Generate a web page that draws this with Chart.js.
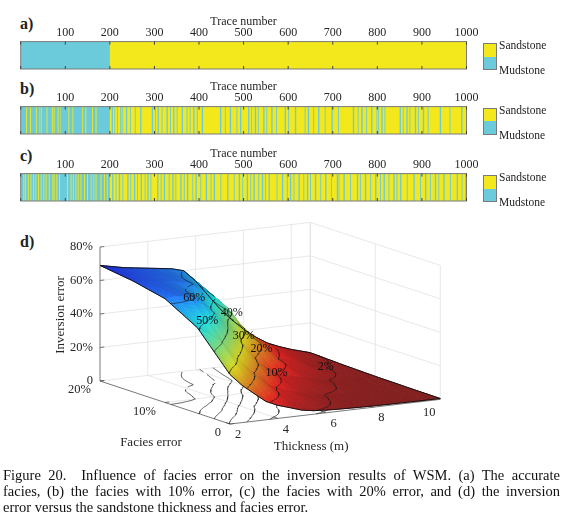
<!DOCTYPE html>
<html>
<head>
<meta charset="utf-8">
<script src="https://cdn.jsdelivr.net/npm/chart.js@4.4.1/dist/chart.umd.min.js"></script>
<style>
  body { margin: 0; background: #fff; width: 570px; height: 526px; position: relative; overflow: hidden;
         font-family: "Liberation Serif", serif; color: #222; }
  canvas { position: absolute; left: 0; }
  .tag { position: absolute; left: 20px; font-weight: bold; font-size: 16px; line-height: 16px; }
  .leg { position: absolute; left: 483px; width: 12px; border: 1px solid #7a7a7a; }
  .leg div { height: 50%; }
  .legt { position: absolute; left: 499px; font-size: 11.5px; line-height: 12px; margin-top: -6px; }
  #cap { position: absolute; left: 3px; top: 467px; width: 557px; font-size: 14.5px; line-height: 16px; color: #111; }
  #cap div { text-align: justify; text-align-last: justify; }
  #cap div.last { text-align-last: left; }
</style>
</head>
<body>
<div class="tag" style="top:16px">a)</div>
<div class="tag" style="top:81px">b)</div>
<div class="tag" style="top:148px">c)</div>
<div class="tag" style="top:234px">d)</div>

<canvas id="stripA" width="570" height="72" style="top:0px"></canvas>
<canvas id="stripB" width="570" height="72" style="top:64.7px"></canvas>
<canvas id="stripC" width="570" height="72" style="top:132px"></canvas>
<canvas id="surf" width="570" height="245" style="top:215px"></canvas>

<div class="leg" style="top:43px;height:25px"><div style="background:#f2e81c"></div><div style="background:#6ccbdb"></div></div>
<div class="legt" style="top:45px">Sandstone</div><div class="legt" style="top:70px">Mudstone</div>
<div class="leg" style="top:107.7px;height:25px"><div style="background:#f2e81c"></div><div style="background:#6ccbdb"></div></div>
<div class="legt" style="top:109.5px">Sandstone</div><div class="legt" style="top:134.5px">Mudstone</div>
<div class="leg" style="top:175px;height:25px"><div style="background:#f2e81c"></div><div style="background:#6ccbdb"></div></div>
<div class="legt" style="top:177px">Sandstone</div><div class="legt" style="top:202px">Mudstone</div>

<div id="cap">
  <div>Figure 20.&nbsp; Influence of facies error on the inversion results of WSM. (a) The accurate</div>
  <div>facies, (b) the facies with 10% error, (c) the facies with 20% error, and (d) the inversion</div>
  <div class="last">error versus the sandstone thickness and facies error.</div>
</div>

<script>
const SAND = '#f2e81c';
const MUD = '#6ccbdb';

// true facies: mudstone traces, everything else sandstone
const mudstoneTrue = [[1, 200]];
const errorsA = [];
const errorsB = [[13,14],[22,23],[35,36],[42,42],[46,47],[59,60],[71,72],[75,76],[84,85],[90,90],[108,109],[117,118],[139,140],[146,147],[161,162],[169,170],
  [205,207],[211,212],[217,218],[224,226],[229,230],[237,239],[246,247],[257,258],[269,271],[295,297],[302,303],[308,310],[317,318],[328,330],[336,337],[343,345],[351,352],[362,364],[373,374],[380,381],[388,390],[396,397],[407,409],[448,450],[459,460],[470,472],[485,486],[493,495],
  [511,513],[518,519],[526,528],[533,534],[545,547],[552,553],[563,565],[574,575],[593,595],[601,602],[616,618],[638,639],[645,647],[657,658],[668,670],[683,684],[698,700],[713,714],[746,748],[757,758],[765,767],[776,777],[787,789],[799,800],[803,804],[810,812],[817,818],[851,853],[858,859],[866,868],[873,874],[885,887],[892,893],[903,905],[914,915],[941,943],[963,964],[989,991]];
const errorsC = [[7,8],[11,12],[17,18],[23,24],[29,30],[34,35],[40,41],[46,47],[52,53],[57,58],[64,65],[72,73],[75,76],[81,82],[87,88],[105,106],[113,114],[118,119],[124,125],[129,130],[135,136],[143,144],[150,151],[158,159],[164,165],[169,170],[180,181],[188,189],[194,195],
  [206,208],[214,215],[221,223],[229,230],[240,242],[247,248],[255,257],[262,263],[270,272],[279,280],[285,287],[292,293],[307,309],[315,316],[322,324],[333,334],[341,343],[348,349],[359,361],[367,368],[374,376],[386,387],[393,395],[404,405],[416,418],[427,428],[434,436],[449,450],[464,466],[479,480],[490,492],[498,499],
  [508,510],[516,517],[523,525],[534,535],[542,544],[549,550],[557,559],[575,576],[587,589],[598,599],[605,607],[613,614],[624,626],[635,636],[643,645],[650,651],[661,663],[673,674],[684,686],[697,698],[710,712],[714,715],[725,727],[740,741],[755,757],[762,763],[773,775],[785,786],[796,798],[807,808],[815,817],[826,827],[837,839],[844,845],[852,854],[867,868],[882,884],[897,898],[908,910],[919,920],[930,932],[938,939],[949,951],[964,965],[979,981],[990,991],[998,999]];
const traceCount = 1000;

// surface (d): inversion error (%) vs thickness (m), one row per facies error (%)
const thickness = [2, 2.5, 3, 3.5, 4, 4.5, 5, 5.5, 6, 6.5, 7, 7.5, 8, 8.5, 9, 9.5, 10, 10.8];
const faciesError = [0, 5, 10, 15, 20];
const invErrF0  = [29.5, 22.3, 16.6, 11, 7.8, 5.6, 3.3, 2.1, 1.6, 1.3, 1.1, 0.9, 0.8, 0.7, 0.65, 0.6, 0.55, 0.5];
const invErrF5  = [51, 46, 40.4, 32.6, 24.9, 18.3, 12, 8.5, 6.2, 4.0, 2.5, 1.7, 1.4, 1.15, 1.0, 0.85, 0.75, 0.65];
const invErrF10 = [62, 62.5, 61.6, 58.6, 51.2, 42.2, 34.2, 24, 16.5, 11, 8, 6, 4.3, 2.7, 1.75, 1.45, 1.15, 0.9];
const invErrF15 = [66.3, 65.2, 64.2, 63.2, 62.2, 60.4, 55.5, 50, 43, 33, 25, 18, 10.5, 8.0, 6, 3.5, 2, 1.4];
const invErrF20 = [69, 67.5, 66, 65, 64, 63, 62, 60, 53, 44, 35, 27.5, 21, 15.5, 11, 8, 5.5, 2.2];
const invErr = [invErrF0, invErrF5, invErrF10, invErrF15, invErrF20];

const thickTicks = [2, 4, 6, 8, 10];
const faciesTicks = [0, 10, 20];
const errTicks = [0, 20, 40, 60, 80];
const contourLevels = [2, 10, 20, 30, 40, 50, 60];
const contourLabelAt = [[60, 10.3], [50, 7.5], [40, 15], [30, 12.4], [20, 13], [10, 10], [2, 14.6]];

const FONT = 'Liberation Serif';
const TXT = '#262626';

    // Facies strips
const stripFrame = {
    id: 'stripFrame',
    afterDatasetsDraw(chart) {
        const { ctx, chartArea: a, scales: { x } } = chart;
        ctx.save();
        ctx.strokeStyle = '#7a7a7a';
        ctx.lineWidth = 1;
        ctx.strokeRect(a.left, a.top, a.right - a.left, a.bottom - a.top);
        ctx.strokeStyle = '#404040';
        x.ticks.forEach(tk => {
            const px = x.getPixelForValue(tk.value);
            ctx.beginPath();
            ctx.moveTo(px, a.top); ctx.lineTo(px, a.top + 3);
            ctx.moveTo(px, a.bottom); ctx.lineTo(px, a.bottom - 3);
            ctx.stroke();
        });
        ctx.restore();
    }
};

function isMud(t) {
    return mudstoneTrue.some(r => t >= r[0] && t <= r[1]);
}

function stripChart(id, errors) {
    new Chart(document.getElementById(id), {
        type: 'bar',
        data: {
            labels: ['facies'],
            datasets: [
                {
                    data: errors.map(r => ({ x: [r[0] - 1, r[1]], y: 'facies' })),
                    backgroundColor: errors.map(r => isMud(r[0]) ? SAND : MUD),
                    order: 1
                },
                {
                    data: mudstoneTrue.map(r => ({ x: [r[0] - 1, r[1]], y: 'facies' })),
                    backgroundColor: MUD,
                    order: 2
                },
                {
                    data: [{ x: [0, traceCount], y: 'facies' }],
                    backgroundColor: SAND,
                    order: 3
                }
            ]
        },
        options: {
            indexAxis: 'y',
            responsive: false,
            animation: false,
            events: [],
            datasets: { bar: { grouped: false, categoryPercentage: 1, barPercentage: 1, borderWidth: 0, inflateAmount: 0 } },
            layout: { padding: { left: 20.7, right: 103.5, top: 14.2, bottom: 3 } },
            scales: {
                x: {
                    type: 'linear', position: 'top', min: 0, max: traceCount,
                    grid: { display: false, drawTicks: false },
                    border: { display: false },
                    ticks: {
                        stepSize: 100, padding: 2, maxRotation: 0, autoSkip: false, color: TXT,
                        font: { family: FONT, size: 12 },
                        callback: v => v === 0 ? '' : v
                    },
                    title: { display: true, text: 'Trace number', padding: 0, color: TXT, font: { family: FONT, size: 12 } }
                },
                y: { type: 'category', display: false }
            },
            plugins: { legend: { display: false }, tooltip: { enabled: false } }
        },
        plugins: [stripFrame]
    });
}

stripChart('stripA', errorsA);
stripChart('stripB', errorsB);
stripChart('stripC', errorsC);

    // 3D surface
const t0 = thickness[0];
const t1 = thickness[thickness.length - 1];
const fMax = faciesError[faciesError.length - 1];
const eMax = errTicks[errTicks.length - 1];
const view = { ox: 230, oy: 209, tx: 23.9, ty: -2.8, fx: -6.5, fy: -2.15, ez: -1.675 };
const cmax = 80;

const proj = (t, f, e) => ({
    x: view.ox + (t - t0) * view.tx + f * view.fx,
    y: view.oy + (t - t0) * view.ty + f * view.fy + e * view.ez
});

function cellIndex(arr, v) {
    let i = 0;
    while (i < arr.length - 2 && v > arr[i + 1]) i++;
    return i;
}

function errAt(t, f) {
    const i = cellIndex(thickness, t), j = cellIndex(faciesError, f);
    const a = (t - thickness[i]) / (thickness[i + 1] - thickness[i]);
    const b = (f - faciesError[j]) / (faciesError[j + 1] - faciesError[j]);
    return (1 - a) * (1 - b) * invErr[j][i] + a * (1 - b) * invErr[j][i + 1]
        + (1 - a) * b * invErr[j + 1][i] + a * b * invErr[j + 1][i + 1];
}

// finer mesh for smooth (interp-like) shading
function refine(arr, n) {
    const out = [];
    for (let i = 0; i < arr.length - 1; i++)
        for (let s = 0; s < n; s++) out.push(arr[i] + (arr[i + 1] - arr[i]) * s / n);
    out.push(arr[arr.length - 1]);
    return out;
}
const tF = refine(thickness, 4);
const fF = refine(faciesError, 10);
const EF = fF.map(f => tF.map(t => errAt(t, f)));

function jetRev(e) {
    const u = 1 - Math.min(Math.max(e / cmax, 0), 1);
    const cl = v => Math.min(Math.max(v, 0), 1);
    return [cl(1.5 - Math.abs(4 * u - 3)), cl(1.5 - Math.abs(4 * u - 2)), cl(1.5 - Math.abs(4 * u - 1))];
}

// viewing direction from the projection (normalised box coordinates)
const r1 = [(t1 - t0) * view.tx, fMax * view.fx, 0];
const r2 = [(t1 - t0) * view.ty, fMax * view.fy, eMax * view.ez];
let V = [r1[1] * r2[2] - r1[2] * r2[1], r1[2] * r2[0] - r1[0] * r2[2], r1[0] * r2[1] - r1[1] * r2[0]];
if (V[2] < 0) V = V.map(v => -v);
const vl = Math.hypot(...V);
V = V.map(v => v / vl);

const quads = [];
for (let j = 0; j < fF.length - 1; j++) {
    for (let i = 0; i < tF.length - 1; i++) {
        const e00 = EF[j][i], e10 = EF[j][i + 1], e01 = EF[j + 1][i], e11 = EF[j + 1][i + 1];
        const dX = (tF[i + 1] - tF[i]) / (t1 - t0), dY = (fF[j + 1] - fF[j]) / fMax;
        const dZ1 = ((e10 + e11) - (e00 + e01)) / 2 / eMax, dZ2 = ((e01 + e11) - (e00 + e10)) / 2 / eMax;
        let n = [-dZ1 * dY, -dX * dZ2, dX * dY];
        const nl = Math.hypot(...n);
        n = n.map(v => v / nl);
        const ndl = Math.max(0, n[0] * V[0] + n[1] * V[1] + n[2] * V[2]);
        const k = 0.6 + 0.35 * ndl;
        const spec = 32 + 25 * Math.pow(ndl, 6);
        const c = jetRev((e00 + e10 + e01 + e11) / 4).map(v => Math.min(255, Math.round(v * 255 * k + spec)));
        const tc = (tF[i] + tF[i + 1]) / 2, fc = (fF[j] + fF[j + 1]) / 2;
        quads.push({
            depth: proj(tc, fc, 0).y,
            color: `rgb(${c[0]},${c[1]},${c[2]})`,
            pts: [proj(tF[i], fF[j], e00), proj(tF[i + 1], fF[j], e10), proj(tF[i + 1], fF[j + 1], e11), proj(tF[i], fF[j + 1], e01)]
        });
    }
}
quads.sort((a, b) => a.depth - b.depth);

function contourSegs(level) {
    const out = [];
    for (let j = 0; j < fF.length - 1; j++) {
        for (let i = 0; i < tF.length - 1; i++) {
            const c = [[tF[i], fF[j], EF[j][i]], [tF[i + 1], fF[j], EF[j][i + 1]],
                       [tF[i + 1], fF[j + 1], EF[j + 1][i + 1]], [tF[i], fF[j + 1], EF[j + 1][i]]];
            const pts = [];
            for (let k = 0; k < 4; k++) {
                const p = c[k], q = c[(k + 1) % 4];
                if ((p[2] - level) * (q[2] - level) < 0) {
                    const s = (level - p[2]) / (q[2] - p[2]);
                    pts.push([p[0] + s * (q[0] - p[0]), p[1] + s * (q[1] - p[1])]);
                }
            }
            if (pts.length >= 2) out.push([pts[0], pts[1]]);
            if (pts.length === 4) out.push([pts[2], pts[3]]);
        }
    }
    return out;
}

const GAP = { x: null, y: null };
const floorPts = [], surfPts = [];
contourLevels.forEach(lv => {
    contourSegs(lv).forEach(([a, b]) => {
        floorPts.push(proj(a[0], a[1], 0), proj(b[0], b[1], 0), GAP);
        surfPts.push(proj(a[0], a[1], lv), proj(b[0], b[1], lv), GAP);
    });
});

const edgePts = [];
tF.forEach((t, i) => edgePts.push(proj(t, 0, EF[0][i])));
edgePts.push(GAP);
tF.forEach((t, i) => edgePts.push(proj(t, fMax, EF[fF.length - 1][i])));
edgePts.push(GAP);
fF.forEach((f, j) => edgePts.push(proj(t0, f, EF[j][0])));
edgePts.push(GAP);
fF.forEach((f, j) => edgePts.push(proj(t1, f, EF[j][tF.length - 1])));

const gridPts = [];
const line = (arr, a, b) => arr.push(a, b, GAP);
thickTicks.filter(t => t > t0).concat([t1]).forEach(t => line(gridPts, proj(t, fMax, 0), proj(t, fMax, eMax)));
errTicks.forEach(e => line(gridPts, proj(t0, fMax, e), proj(t1, fMax, e)));
faciesTicks.forEach(f => line(gridPts, proj(t1, f, 0), proj(t1, f, eMax)));
errTicks.forEach(e => line(gridPts, proj(t1, fMax, e), proj(t1, 0, e)));
thickTicks.filter(t => t > t0).forEach(t => line(gridPts, proj(t, 0, 0), proj(t, fMax, 0)));
faciesTicks.filter(f => f > 0 && f < fMax).forEach(f => line(gridPts, proj(t0, f, 0), proj(t1, f, 0)));

const axisPts = [];
line(axisPts, proj(t0, fMax, 0), proj(t0, fMax, eMax));
line(axisPts, proj(t0, fMax, 0), proj(t0, 0, 0));
line(axisPts, proj(t0, 0, 0), proj(t1, 0, 0));
errTicks.forEach(e => line(axisPts, proj(t0, fMax, e), proj(t0 + 0.18, fMax, e)));
faciesTicks.forEach(f => line(axisPts, proj(t0, f, 0), proj(t0 + 0.18, f, 0)));
thickTicks.forEach(t => line(axisPts, proj(t, 0, 0), proj(t, 0.7, 0)));

function contourLabelPos(level, f) {
    for (let k = 0; k < 400; k++) {
        const ta = t0 + (t1 - t0) * k / 400, tb = t0 + (t1 - t0) * (k + 1) / 400;
        const ea = errAt(ta, f), eb = errAt(tb, f);
        if ((ea - level) * (eb - level) <= 0) {
            const t = ta + (tb - ta) * (level - ea) / (eb - ea);
            return proj(t, f, level);
        }
    }
    return null;
}

const surfacePlugin = {
    id: 'surface',
    afterDatasetDraw(chart, args) {
        if (args.index !== 2) return;
        const { ctx, scales: { x, y } } = chart;
        ctx.save();
        ctx.lineJoin = 'round';
        quads.forEach(q => {
            ctx.beginPath();
            q.pts.forEach((p, k) => {
                const px = x.getPixelForValue(p.x), py = y.getPixelForValue(p.y);
                if (k) ctx.lineTo(px, py); else ctx.moveTo(px, py);
            });
            ctx.closePath();
            ctx.fillStyle = q.color;
            ctx.strokeStyle = q.color;
            ctx.lineWidth = 0.7;
            ctx.fill();
            ctx.stroke();
        });
        ctx.restore();
    },
    afterDatasetsDraw(chart) {
        const { ctx, scales: { x, y } } = chart;
        const X = p => x.getPixelForValue(p.x), Y = p => y.getPixelForValue(p.y);
        ctx.save();
        ctx.fillStyle = TXT;
        ctx.font = `12.5px "${FONT}"`;
        ctx.textBaseline = 'middle';

        ctx.textAlign = 'right';
        errTicks.forEach(e => {
            const p = proj(t0, fMax, e);
            ctx.fillText(e === 0 ? '0' : e + '%', X(p) - 7, Y(p));
        });
        faciesTicks.forEach(f => {
            const p = proj(t0, f, 0);
            ctx.fillText(f === 0 ? '0' : f + '%', X(p) - 9, Y(p) + 9);
        });
        ctx.textAlign = 'center';
        thickTicks.forEach(t => {
            const p = proj(t, 0, 0);
            ctx.fillText(String(t), X(p) + 8, Y(p) + 11);
        });

        ctx.font = `13px "${FONT}"`;
        const pf = proj(t0, fMax / 2, 0);
        ctx.fillText('Facies error', X(pf) - 14, Y(pf) + 40);
        const pt = proj((t0 + t1) / 2, 0, 0);
        ctx.fillText('Thickness (m)', X(pt) - 24, Y(pt) + 35);
        const pz = proj(t0, fMax, eMax / 2);
        ctx.save();
        ctx.translate(X(pz) - 39, Y(pz) + 1);
        ctx.rotate(-Math.PI / 2);
        ctx.fillText('Inversion error', 0, 0);
        ctx.restore();

        ctx.font = `12px "${FONT}"`;
        ctx.fillStyle = '#111';
        contourLabelAt.forEach(([lv, f]) => {
            const p = contourLabelPos(lv, f);
            if (p) ctx.fillText(lv + '%', X(p), Y(p));
        });
        ctx.restore();
    }
};

const lineSet = (data, color, width, order) => ({
    data, showLine: true, borderColor: color, borderWidth: width, pointRadius: 0, spanGaps: false, order
});

new Chart(document.getElementById('surf'), {
    type: 'scatter',
    data: {
        datasets: [
            lineSet(gridPts, '#e2e2e2', 0.8, 10),
            lineSet(axisPts, '#555555', 0.8, 9),
            lineSet(floorPts, '#2a2a2a', 0.7, 8),
            lineSet(surfPts, '#1a1a1a', 0.6, 2),
            lineSet(edgePts, '#111111', 1, 1)
        ]
    },
    options: {
        responsive: false,
        animation: false,
        events: [],
        layout: { padding: 0 },
        scales: {
            x: { type: 'linear', min: 0, max: 570, display: false },
            y: { type: 'linear', min: 0, max: 245, reverse: true, display: false }
        },
        plugins: { legend: { display: false }, tooltip: { enabled: false } }
    },
    plugins: [surfacePlugin]
});
</script>
</body>
</html>
